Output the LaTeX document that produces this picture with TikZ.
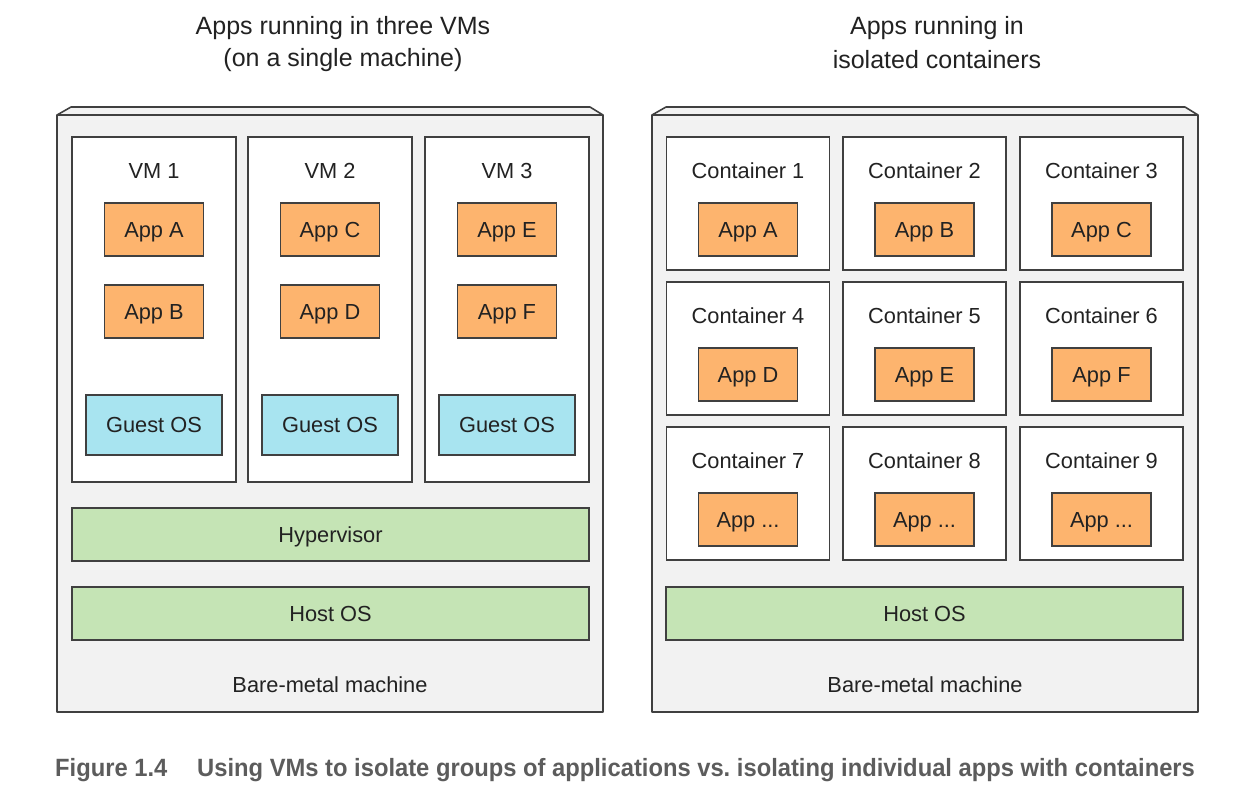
\documentclass[tikz,border=0pt]{standalone}
\usepackage{fontspec}
\setmainfont{Liberation Sans}
\newfontfamily\capfont[FakeStretch=0.95]{Liberation Sans}
\usepackage{xcolor}
\usepackage{tikz}

\definecolor{linec}{RGB}{64,64,64}
\definecolor{textc}{RGB}{34,34,34}
\definecolor{metal}{RGB}{242,242,242}
\definecolor{appc}{RGB}{253,180,110}
\definecolor{guestc}{RGB}{168,228,240}
\definecolor{osc}{RGB}{197,228,181}
\definecolor{capc}{RGB}{92,92,92}
\newcommand{\appdots}{...}

\tikzset{
  box/.style={draw=linec,line width=1.6pt,inner sep=0pt,text=textc,
    text height=15.6pt,text depth=0pt},
  vmbox/.style={box,fill=white,minimum width=164,minimum height=345},
  ctbox/.style={box,fill=white,minimum width=163,minimum height=133},
  appbox/.style={box,fill=appc,minimum width=99,minimum height=53},
  guestbox/.style={box,fill=guestc,minimum width=136,minimum height=60},
  osbox/.style={box,fill=osc,minimum width=517,minimum height=53},
  machine/.style={draw=linec,fill=metal,line width=1.6pt,line join=round},
  lbl/.style={text=textc,text height=15.6pt,text depth=0pt},
  ttl/.style={text=textc,font=\fontsize{25}{30}\selectfont},
  capt/.style={anchor=base west,inner sep=0pt,text=capc,
    font=\capfont\bfseries\fontsize{25}{30}\selectfont}
}

\begin{document}
\frenchspacing
\begin{tikzpicture}[x=1pt,y=-1pt,font=\fontsize{21.8}{26}\selectfont]
  \useasboundingbox (0,0) rectangle (1237,798);
  % the two machines
  \foreach \l/\r in {57/603,652/1198} {
    \filldraw[machine] (\l,712) -- (\l,115) -- (\l+14,107) -- (\r-13,107)
      -- (\r,115) -- (\r,712) -- cycle;
    \draw[machine] (\l,115) -- (\r,115);
  }
  \node[ttl] (ttlvm1) at (343,28) {Apps running in three VMs};
  \node[ttl] (ttlvm2) at (343,60) {(on a single machine)};
  \node[ttl] (ttlct1) at (937,28) {Apps running in};
  \node[ttl] (ttlct2) at (937,60) {isolated containers};

  % VMs
  \foreach \i/\x/\a/\b in {1/154/A/B,2/330/C/D,3/507/E/F} {
    \node[vmbox] (vm\i) at (\x,309.5) {};
    \node[lbl] (vmlbl\i) at (\x,171) {VM \i};
    \node[appbox] (app\a) at (\x,229.5) {App \a};
    \node[appbox] (app\b) at (\x,311.5) {App \b};
    \node[guestbox] (guest\i) at (\x,425) {Guest OS};
  }
  \node[osbox] (hyper) at (330.5,534.5) {Hypervisor};
  \node[osbox] (hostvm) at (330.5,613.5) {Host OS};
  \node[lbl] (metalvm) at (330,685) {Bare-metal machine};

  % containers
  \foreach \n/\x/\y/\a in {1/748/137/A,2/924.5/137/B,3/1101.5/137/C,
                           4/748/282/D,5/924.5/282/E,6/1101.5/282/F,
                           7/748/427/\appdots,8/924.5/427/\appdots,9/1101.5/427/\appdots} {
    \node[ctbox] (ct\n) at (\x,\y+66.5) {};
    \node[lbl] (ctlbl\n) at (\x,\y+34) {Container \n};
    \node[appbox] (ctapp\n) at (\x,\y+92.5) {App \a};
  }
  \node[osbox] (hostct) at (924.5,613.5) {Host OS};
  \node[lbl] (metalct) at (925,685) {Bare-metal machine};

  % caption
  \node[capt] (capnum) at (55,776) {Figure 1.4};
  \node[capt] (captxt) at (197,776) {Using VMs to isolate groups of applications vs. isolating individual apps with containers};
\end{tikzpicture}
\end{document}
